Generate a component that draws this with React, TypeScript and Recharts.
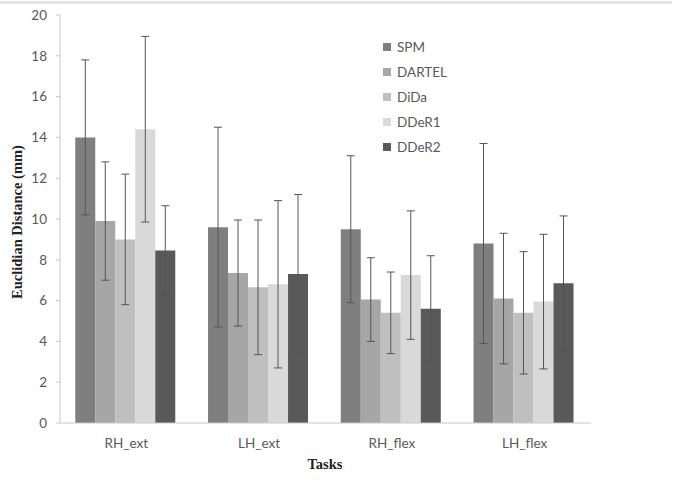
import React from "react"
import { BarChart, Bar, XAxis, YAxis, ErrorBar } from "recharts"

const tasks = ["RH_ext", "LH_ext", "RH_flex", "LH_flex"]
const methods = ["SPM", "DARTEL", "DiDa", "DDeR1", "DDeR2"]
const colors = ["#7f7f7f", "#a6a6a6", "#bfbfbf", "#d9d9d9", "#595959"]

const spm = [14.0, 9.6, 9.5, 8.8]
const spmErr = [3.8, 4.9, 3.6, 4.9]
const dartel = [9.9, 7.35, 6.05, 6.1]
const dartelErr = [2.9, 2.6, 2.05, 3.2]
const dida = [9.0, 6.65, 5.4, 5.4]
const didaErr = [3.2, 3.3, 2.0, 3.0]
const dder1 = [14.4, 6.8, 7.25, 5.95]
const dder1Err = [4.55, 4.1, 3.15, 3.3]
const dder2 = [8.45, 7.3, 5.6, 6.85]
const dder2Err = [2.2, 3.9, 2.6, 3.3]

const yTicks = [0, 2, 4, 6, 8, 10, 12, 14, 16, 18, 20]

const values = [spm, dartel, dida, dder1, dder2]
const errors = [spmErr, dartelErr, didaErr, dder1Err, dder2Err]

const data = tasks.map((task, i) => {
  const row: Record<string, string | number> = { task }
  methods.forEach((m, j) => {
    row[m] = values[j][i]
    row[m + "_err"] = errors[j][i]
  })
  return row
})

const tickFont = { fontFamily: "Lato, 'Liberation Sans', sans-serif", fontSize: 13.5, fill: "#595959" }

export default function App() {
  return (
    <div style={{ position: "absolute", left: 0, top: 0, width: 678, height: 482, background: "#fff" }}>
      <div style={{ position: "absolute", left: 0, top: 1, width: 672, height: 3, background: "#e3e3e3" }} />
      <BarChart
        width={678}
        height={482}
        data={data}
        margin={{ top: 15, right: 87, bottom: 29, left: 0 }}
        barCategoryGap="11.5%"
        barGap={0}
      >
        <XAxis
          dataKey="task"
          height={30}
          axisLine={{ stroke: "#c8c8c8" }}
          tickLine={false}
          tick={tickFont}
          tickMargin={9}
        />
        <YAxis
          width={60}
          domain={[0, 20]}
          ticks={yTicks}
          axisLine={{ stroke: "#c8c8c8" }}
          tickLine={{ stroke: "#c8c8c8" }}
          tickSize={4}
          tickMargin={9}
          tick={tickFont}
          interval={0}
        />
        {methods.map((m, j) => (
          <Bar key={m} dataKey={m} fill={colors[j]} isAnimationActive={false}>
            <ErrorBar dataKey={m + "_err"} width={4} stroke="#555" strokeWidth={1} direction="y" isAnimationActive={false} />
          </Bar>
        ))}
      </BarChart>
      <div style={{ position: "absolute", left: 383, top: 35 }}>
        {methods.map((m, j) => (
          <div key={m} style={{ display: "flex", alignItems: "center", height: 24.8 }}>
            <div style={{ width: 8, height: 8, background: colors[j], marginRight: 6 }} />
            <span style={{ fontFamily: tickFont.fontFamily, color: "#595959", fontSize: 13.5 }}>{m}</span>
          </div>
        ))}
      </div>
      <div
        style={{
          position: "absolute",
          left: 17,
          top: 222,
          transform: "translate(-50%, -50%) rotate(-90deg)",
          whiteSpace: "nowrap",
          fontFamily: "'Liberation Serif', serif",
          fontWeight: "bold",
          fontSize: 14.5,
          color: "#222",
        }}
      >
        Euclidian Distance (mm)
      </div>
      <div
        style={{
          position: "absolute",
          left: 325,
          top: 464,
          transform: "translate(-50%, -50%)",
          fontFamily: "'Liberation Serif', serif",
          fontWeight: "bold",
          fontSize: 14.5,
          color: "#222",
        }}
      >
        Tasks
      </div>
    </div>
  )
}
